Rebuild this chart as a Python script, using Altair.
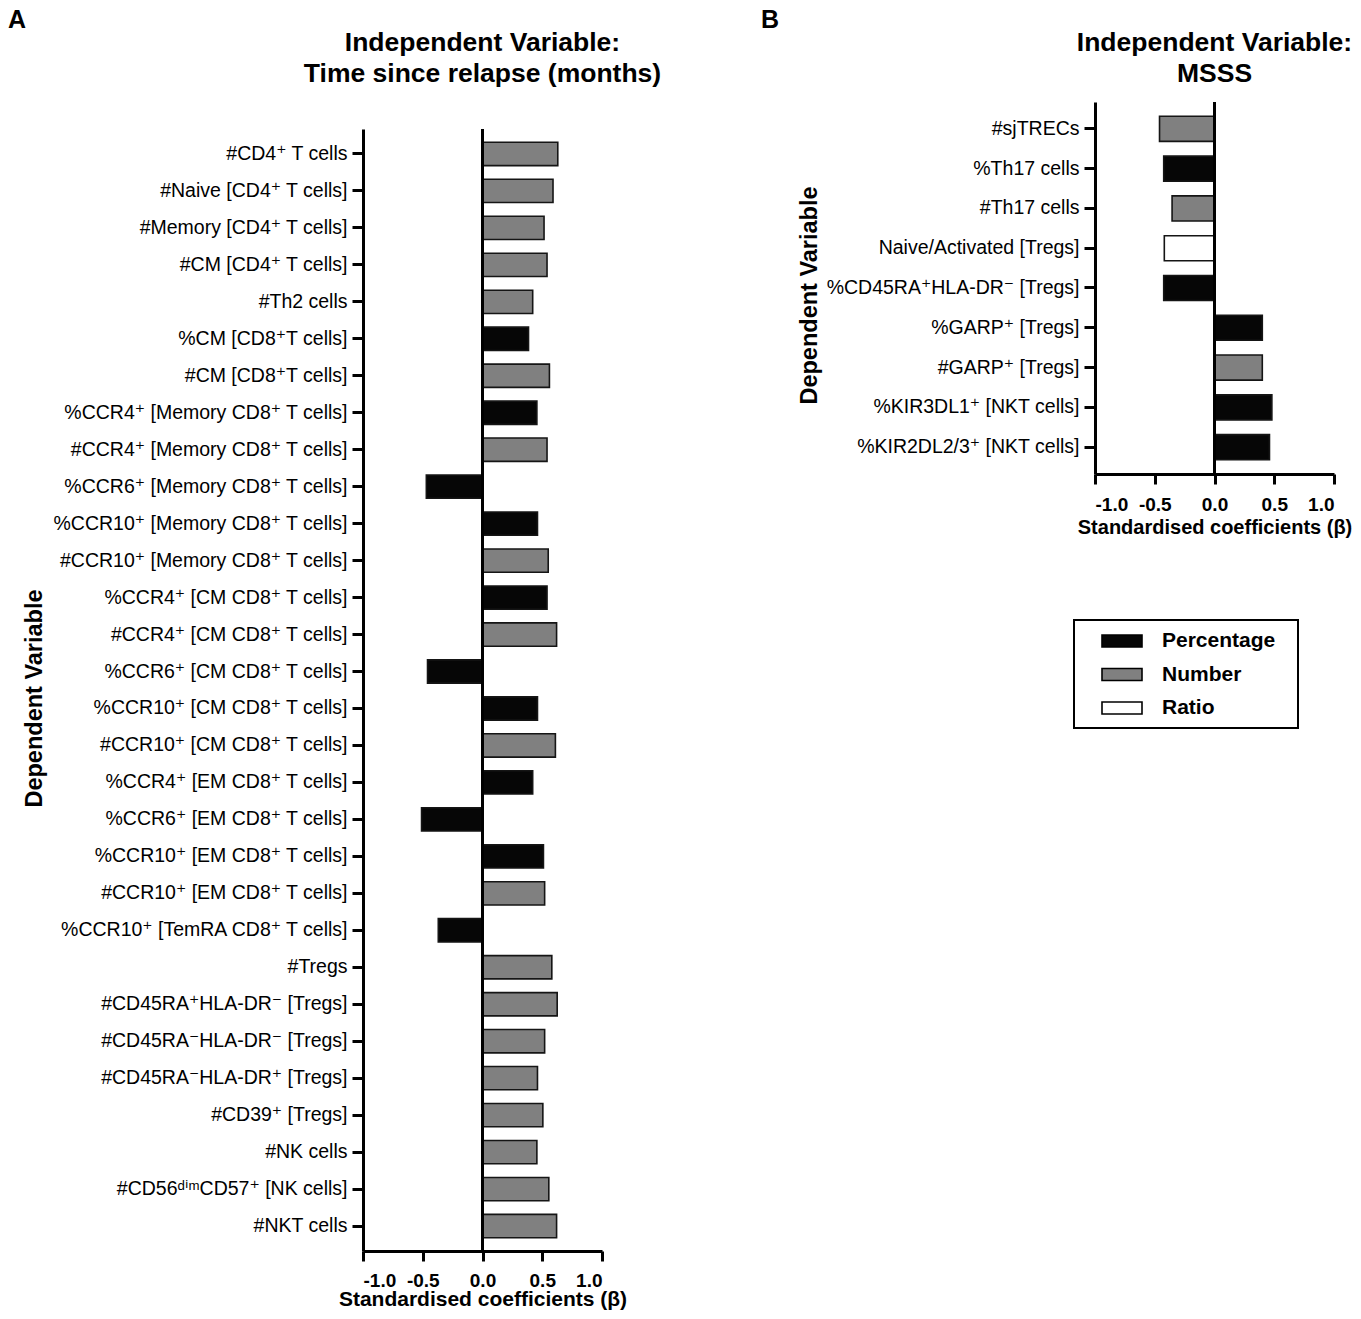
import altair as alt
import pandas as pd

FONT = "Liberation Sans, Arial, DejaVu Sans, sans-serif"

# ---------------- Panel A data ----------------
a_labels = [
    "#CD4⁺ T cells", "#Naive [CD4⁺ T cells]", "#Memory [CD4⁺ T cells]",
    "#CM [CD4⁺ T cells]", "#Th2 cells", "%CM [CD8⁺T cells]", "#CM [CD8⁺T cells]",
    "%CCR4⁺ [Memory CD8⁺ T cells]", "#CCR4⁺ [Memory CD8⁺ T cells]",
    "%CCR6⁺ [Memory CD8⁺ T cells]", "%CCR10⁺ [Memory CD8⁺ T cells]",
    "#CCR10⁺ [Memory CD8⁺ T cells]", "%CCR4⁺ [CM CD8⁺ T cells]",
    "#CCR4⁺ [CM CD8⁺ T cells]", "%CCR6⁺ [CM CD8⁺ T cells]",
    "%CCR10⁺ [CM CD8⁺ T cells]", "#CCR10⁺ [CM CD8⁺ T cells]",
    "%CCR4⁺ [EM CD8⁺ T cells]", "%CCR6⁺ [EM CD8⁺ T cells]",
    "%CCR10⁺ [EM CD8⁺ T cells]", "#CCR10⁺ [EM CD8⁺ T cells]",
    "%CCR10⁺ [TemRA CD8⁺ T cells]", "#Tregs", "#CD45RA⁺HLA-DR⁻ [Tregs]",
    "#CD45RA⁻HLA-DR⁻ [Tregs]", "#CD45RA⁻HLA-DR⁺ [Tregs]", "#CD39⁺ [Tregs]",
    "#NK cells", "#CD56ᵈⁱᵐCD57⁺ [NK cells]", "#NKT cells",
]
a_values = [0.63, 0.59, 0.515, 0.54, 0.42, 0.385, 0.56, 0.455, 0.54, -0.47,
            0.46, 0.55, 0.54, 0.62, -0.46, 0.46, 0.61, 0.42, -0.51, 0.51,
            0.52, -0.37, 0.58, 0.625, 0.52, 0.46, 0.505, 0.455, 0.555, 0.62]
a_types = ["Number", "Number", "Number", "Number", "Number", "Percentage",
           "Number", "Percentage", "Number", "Percentage", "Percentage",
           "Number", "Percentage", "Number", "Percentage", "Percentage",
           "Number", "Percentage", "Percentage", "Percentage", "Number",
           "Percentage", "Number", "Number", "Number", "Number", "Number",
           "Number", "Number", "Number"]
a_title = ["Independent Variable:", "Time since relapse (months)"]

# ---------------- Panel B data ----------------
b_labels = ["#sjTRECs", "%Th17 cells", "#Th17 cells", "Naive/Activated [Tregs]",
            "%CD45RA⁺HLA-DR⁻ [Tregs]", "%GARP⁺ [Tregs]", "#GARP⁺ [Tregs]",
            "%KIR3DL1⁺ [NKT cells]", "%KIR2DL2/3⁺ [NKT cells]"]
b_values = [-0.46, -0.425, -0.355, -0.42, -0.425, 0.40, 0.40, 0.48, 0.46]
b_types = ["Number", "Percentage", "Number", "Ratio", "Percentage",
           "Percentage", "Number", "Percentage", "Percentage"]
b_title = ["Independent Variable:", "MSSS"]

type_domain = ["Percentage", "Number", "Ratio"]
type_colors = ["#060606", "#808080", "#ffffff"]
x_ticks = [-1.0, -0.5, 0.0, 0.5, 1.0]

df_a = pd.DataFrame({"label": a_labels, "value": a_values, "type": a_types})
df_b = pd.DataFrame({"label": b_labels, "value": b_values, "type": b_types})
one = pd.DataFrame({"zero": [0.0]})
tag_a = pd.DataFrame({"t": ["A"]})
tag_b = pd.DataFrame({"t": ["B"]})

W = 239
HA = 1122          # visible plot height of panel A
HB = 372           # plot height of panel B
OFF = 27           # panel A plot starts this far below panel B's top
HA_TOT = HA + OFF


def x_enc(label_pad, title_pad, title_size):
    return alt.X(
        "value:Q",
        scale=alt.Scale(domain=[-1, 1], nice=False),
        axis=alt.Axis(
            values=x_ticks,
            labelExpr="replace(format(datum.value, '.1f'), '−', '-')",
            title="Standardised coefficients (β)",
            titleFontSize=title_size, titleFont=FONT, titleFontWeight="bold",
            titlePadding=title_pad,
            labelFont=FONT, labelFontSize=19, labelFontWeight="bold",
            labelPadding=label_pad, tickSize=10, tickWidth=3, domainWidth=3,
            grid=False, labelColor="black", titleColor="black",
        ),
    )


def y_enc(labels, rng, title_x, title_y):
    return alt.Y(
        "label:N",
        scale=alt.Scale(domain=labels, range=rng,
                        paddingInner=0.37, paddingOuter=0.36),
        axis=alt.Axis(
            title="Dependent Variable",
            titleFontSize=23.5, titleFont=FONT, titleFontWeight="bold",
            titleX=title_x, titleY=title_y, titleAngle=270,
            titleBaseline="alphabetic", titleAlign="center",
            labelFont=FONT, labelFontSize=19.5, labelLimit=400,
            labelPadding=5, tickSize=11, tickWidth=3, domainWidth=3,
            labelColor="black", titleColor="black",
        ),
    )


def bars(df, labels, rng, lpad, tpad, tsize, tx, ty, legend):
    return alt.Chart(df).mark_bar(stroke="#151515", strokeWidth=1.6).encode(
        x=x_enc(lpad, tpad, tsize),
        y=y_enc(labels, rng, tx, ty),
        color=alt.Color(
            "type:N",
            scale=alt.Scale(domain=type_domain, range=type_colors),
            legend=legend,
        ),
    )


def zero_rule(y0=None, y1=None):
    enc = {"x": alt.X("zero:Q")}
    if y0 is not None:
        enc["y"] = alt.value(y0)
        enc["y2"] = alt.value(y1)
    return alt.Chart(one).mark_rule(color="black", strokeWidth=3).encode(**enc)


def tag(df, x, y):
    return alt.Chart(df).mark_text(
        font=FONT, fontSize=25, fontWeight="bold", align="left",
        baseline="top", color="black",
    ).encode(text="t:N", x=alt.value(x), y=alt.value(y))


def head(lines, y):
    return alt.Chart(one).mark_text(
        text=lines, font=FONT, fontSize=26.5, fontWeight="bold",
        align="center", baseline="alphabetic", lineHeight=31, color="black",
    ).encode(x=alt.value(W / 2), y=alt.value(y))


legend_b = alt.Legend(
    orient="none", legendX=-21, legendY=518, title=None,
    symbolType="M0.7,-0.6H4.7V0.6H0.7ZM18.9,0", symbolSize=400,
    symbolStrokeColor="black", symbolStrokeWidth=1.6,
    labelFont=FONT, labelFontSize=21, labelFontWeight="bold",
    labelColor="black", labelOffset=56, rowPadding=12.5,
    padding=10, strokeColor="black",
)

panel_a = alt.layer(
    bars(df_a, a_labels, [OFF, HA_TOT], 10, -1.5, 21, -322,
         OFF + HA / 2 + 8, None),
    zero_rule(OFF, HA_TOT),
    tag(tag_a, -355, -94),
    head(a_title, OFF - 78),
).properties(width=W, height=HA_TOT)

panel_b = alt.layer(
    bars(df_b, b_labels, [0, HB], 11, 3.5, 20, -279, HB / 2 + 7, legend_b),
    zero_rule(),
    tag(tag_b, -334, -94),
    head(b_title, -51),
).properties(width=W, height=HB)

chart = alt.hconcat(panel_a, panel_b, spacing=99).resolve_scale(
    color="independent"
).properties(padding=0).configure_view(stroke=None).configure_axis(
    domainColor="black", tickColor="black"
).configure_legend(strokeWidth=2)

chart.save("out.html", embed_options={"renderer": "svg", "actions": False})
